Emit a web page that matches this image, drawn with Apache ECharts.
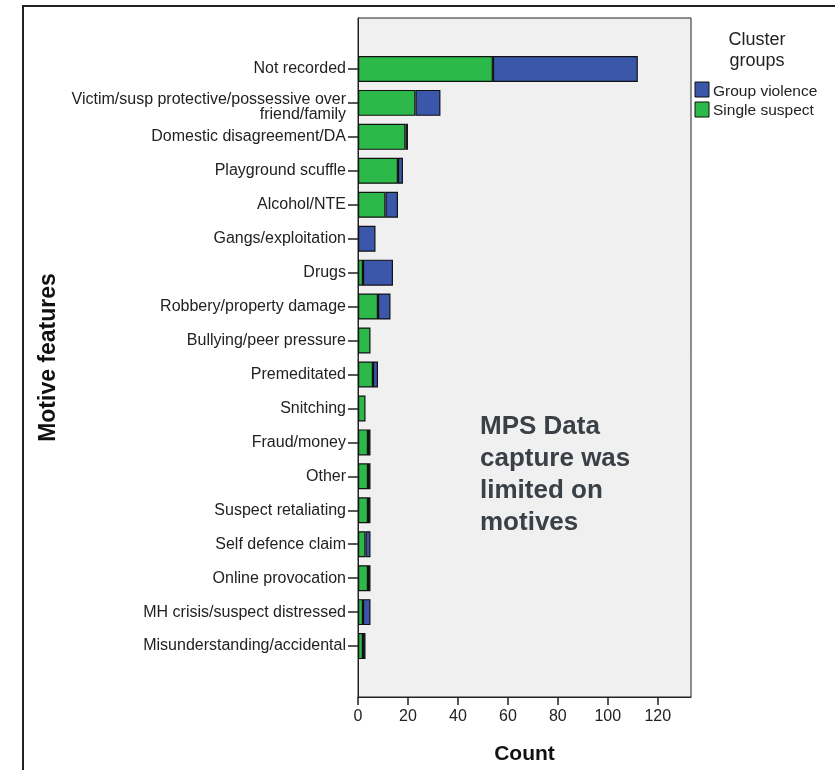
<!DOCTYPE html>
<html><head><meta charset="utf-8">
<script src="https://cdn.jsdelivr.net/npm/echarts@6/dist/echarts.min.js"></script>
<style>html,body{margin:0;padding:0;background:#fff}#c{width:835px;height:770px}</style>
</head><body><div id="c"></div>
<script>
var categories = ["Not recorded","Victim/susp protective/possessive over\nfriend/family","Domestic disagreement/DA","Playground scuffle","Alcohol/NTE","Gangs/exploitation","Drugs","Robbery/property damage","Bullying/peer pressure","Premeditated","Snitching","Fraud/money","Other","Suspect retaliating","Self defence claim","Online provocation","MH crisis/suspect distressed","Misunderstanding/accidental"];
var singleSuspect = [54,23,19,16,11,0,2,8,5,6,3,4,4,4,3,4,2,2];
var groupViolence = [58,10,1,2,5,7,12,5,0,2,0,1,1,1,2,1,3,1];
var xTicks = [0,20,40,60,80,100,120];

var FONT = "Liberation Sans, Arial, sans-serif";
var cats = [''].concat(categories).concat([' ']);
function pad(a){ return [null].concat(a.map(function(v){return v===0?null:v;})).concat([null]); }
var lab = {fontFamily:FONT, fontSize:16, color:'#222', lineHeight:15};

var chart = echarts.init(document.getElementById('c'));
chart.setOption({
  animation:false,
  backgroundColor:'#fff',
  grid:{left:358, top:18, right:144, bottom:72, show:true, backgroundColor:'#f0f0f0', borderColor:'#222', borderWidth:1},
  xAxis:{type:'value', min:0, max:133.3, interval:20,
    name:'Count', nameLocation:'middle', nameGap:47,
    nameTextStyle:{fontFamily:FONT, fontSize:21, fontWeight:'bold', color:'#111'},
    axisLine:{show:true, lineStyle:{color:'#222'}},
    axisTick:{show:true, length:8, customValues:xTicks, lineStyle:{color:'#222', width:1.5}},
    axisLabel:{fontFamily:FONT, fontSize:16, color:'#222', margin:12, customValues:xTicks,
      formatter:function(v){return xTicks.indexOf(v)>=0?String(v):'';}},
    splitLine:{show:false}},
  yAxis:{type:'category', data:cats, inverse:true,
    name:'Motive features', nameLocation:'middle', nameGap:298, nameRotate:90,
    nameTextStyle:{fontFamily:FONT, fontSize:23, fontWeight:'bold', color:'#111'},
    axisLine:{show:true, lineStyle:{color:'#222'}},
    axisTick:{show:true, alignWithLabel:true, length:10, lineStyle:{color:'#222', width:1.5},
      interval:function(i,v){return String(v).trim()!=='';}},
    axisLabel:{fontFamily:FONT, fontSize:16, color:'#222', margin:12, lineHeight:15, align:'right', interval:0,
      formatter:function(v){
        if (v.indexOf('\n')<0) return v;
        var p = v.split('\n');
        return '{s| }\n{q|' + p[0] + '}\n{q|' + p[1] + '}';
      },
      rich:{
        s:{fontFamily:FONT, fontSize:2, lineHeight:9},
        q:Object.assign({}, lab)
      }}},
  legend:{show:false},
  series:[
    {name:'Single suspect', type:'bar', stack:'a', data:pad(singleSuspect), barWidth:26,
     itemStyle:{color:'#2db84a', borderColor:'#111', borderWidth:1.2}},
    {name:'Group violence', type:'bar', stack:'a', data:pad(groupViolence), barWidth:26,
     itemStyle:{color:'#3b57aa', borderColor:'#111', borderWidth:1.2}}
  ],
  graphic:[
    {type:'rect', shape:{x:23,y:6,width:900,height:900}, style:{fill:'none', stroke:'#222', lineWidth:2}, silent:true, z:-10},
    {type:'text', x:757, y:40, style:{text:'Cluster', fontFamily:FONT, fontSize:18, fill:'#222', align:'center', verticalAlign:'middle'}},
    {type:'text', x:757, y:61, style:{text:'groups', fontFamily:FONT, fontSize:18, fill:'#222', align:'center', verticalAlign:'middle'}},
    {type:'rect', shape:{x:695,y:82,width:14,height:15}, style:{fill:'#3b57aa', stroke:'#111', lineWidth:1}},
    {type:'text', x:713, y:92, style:{text:'Group violence', fontFamily:FONT, fontSize:15.5, fill:'#222', verticalAlign:'middle'}},
    {type:'rect', shape:{x:695,y:102,width:14,height:15}, style:{fill:'#2db84a', stroke:'#111', lineWidth:1}},
    {type:'text', x:713, y:111, style:{text:'Single suspect', fontFamily:FONT, fontSize:15.5, fill:'#222', verticalAlign:'middle'}},
    {type:'text', x:480, y:411, style:{text:'MPS Data\ncapture was\nlimited on\nmotives', fontFamily:FONT, fontSize:26, fontWeight:'bold', lineHeight:32, fill:'#3a4046', verticalAlign:'top'}}
  ]
});
</script></body></html>
